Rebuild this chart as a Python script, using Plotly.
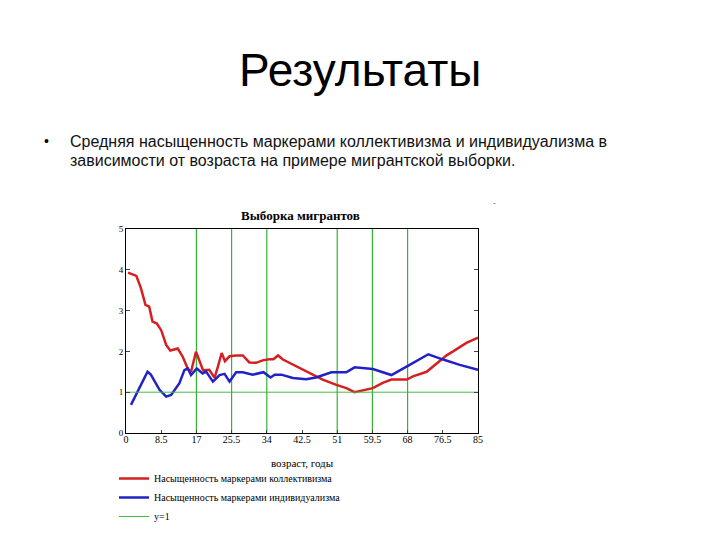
import plotly.graph_objects as go

# Data
age_coll = [0.5, 2.5, 3.6, 4.7, 5.6, 6.4, 7.4, 8.5, 9.7, 10.7, 12.5, 13.7, 14.9, 15.7, 16.9, 17.7,
            18.6, 20.1, 21.4, 22.2, 23.1, 23.9, 25.0, 26.6, 28.2, 29.8, 31.4, 33.0, 34.6, 35.6, 36.7,
            37.9, 41.1, 44.3, 47.5, 50.8, 53.2, 55.2, 57.2, 59.6, 62.0, 64.1, 67.8, 69.3, 72.6, 77.5,
            79.0, 82.2, 85.0]
coll = [3.93, 3.85, 3.55, 3.14, 3.10, 2.73, 2.69, 2.52, 2.16, 2.02, 2.07, 1.87, 1.58, 1.50, 1.99, 1.79,
        1.54, 1.55, 1.35, 1.63, 1.96, 1.76, 1.88, 1.90, 1.90, 1.73, 1.72, 1.78, 1.81, 1.81, 1.90,
        1.80, 1.63, 1.47, 1.31, 1.18, 1.10, 1.00, 1.05, 1.10, 1.23, 1.31, 1.31, 1.39, 1.50, 1.91,
        2.00, 2.21, 2.34]

age_ind = [1.2, 2.8, 5.2, 6.0, 8.1, 9.7, 10.9, 12.9, 14.1, 14.9, 15.7, 17.1, 18.5, 19.3, 21.0, 22.6,
           23.8, 25.0, 26.6, 28.2, 30.6, 33.2, 34.9, 35.9, 37.5, 40.3, 43.5, 45.9, 49.6, 53.2, 55.2,
           59.6, 64.1, 68.5, 73.0, 76.6, 80.6, 85.0]
ind = [0.69, 1.02, 1.50, 1.43, 1.06, 0.89, 0.93, 1.22, 1.54, 1.58, 1.42, 1.58, 1.46, 1.51, 1.26, 1.42,
       1.45, 1.26, 1.49, 1.49, 1.43, 1.49, 1.36, 1.43, 1.43, 1.35, 1.32, 1.36, 1.49, 1.49, 1.61,
       1.57, 1.42, 1.67, 1.93, 1.80, 1.67, 1.55]

ref_x = [0, 85]
ref_y = [1, 1]

x_ticks = [0, 8.5, 17, 25.5, 34, 42.5, 51, 59.5, 68, 76.5, 85]
x_tick_labels = ["0", "8.5", "17", "25.5", "34", "42.5", "51", "59.5", "68", "76.5", "85"]
y_ticks = [0, 1, 2, 3, 4, 5]
v_lines = [17, 25.5, 34, 51, 59.5, 68]

names = ["Насыщенность маркерами коллективизма",
         "Насыщенность маркерами индивидуализма",
         "y=1"]

serif = "Liberation Serif"
sans = "Liberation Sans"

fig = go.Figure()
fig.add_trace(go.Scatter(x=age_coll, y=coll, mode="lines", name=names[0],
                         line=dict(color="#d42020", width=2.5)))
fig.add_trace(go.Scatter(x=age_ind, y=ind, mode="lines", name=names[1],
                         line=dict(color="#2222c4", width=2.5)))
fig.add_trace(go.Scatter(x=ref_x, y=ref_y, mode="lines", name=names[2],
                         line=dict(color="#44bb44", width=1)))

for v in v_lines:
    fig.add_shape(type="line", xref="x", yref="paper", x0=v, x1=v, y0=0, y1=1,
                  line=dict(color="#33b433", width=1.2), layer="below")

OFF = 8  # page offset of the figure inside the browser
W, H = 720, 540
L, R, T, B = 126 - OFF, 478 - OFF, 229 - OFF, 433 - OFF


def px(xs):
    return (xs - OFF - L) / (R - L)


def py(ys):
    return (B - (ys - OFF)) / (B - T)


annotations = [
    dict(text="Результаты", x=px(360), y=py(70), xref="paper", yref="paper",
         showarrow=False, font=dict(family=sans, size=46, color="black"),
         xanchor="center", yanchor="middle"),
    dict(text="•", x=px(42), y=py(141), xref="paper", yref="paper",
         showarrow=False, font=dict(family=sans, size=14, color="black"),
         xanchor="left", yanchor="middle"),
    dict(text="Средняя насыщенность маркерами коллективизма и индивидуализма в",
         x=px(68), y=py(141), xref="paper", yref="paper",
         showarrow=False, font=dict(family=sans, size=16, color="#111111"),
         xanchor="left", yanchor="middle"),
    dict(text="зависимости от возраста на примере мигрантской выборки.",
         x=px(68), y=py(160), xref="paper", yref="paper",
         showarrow=False, font=dict(family=sans, size=16, color="#111111"),
         xanchor="left", yanchor="middle"),
    dict(text="<b>Выборка мигрантов</b>", x=px(300), y=py(215), xref="paper", yref="paper",
         showarrow=False, font=dict(family=serif, size=13, color="black"),
         xanchor="center", yanchor="middle"),
    dict(text="-", x=px(494), y=py(203), xref="paper", yref="paper",
         showarrow=False, font=dict(family=serif, size=8, color="#555555"),
         xanchor="center", yanchor="middle"),
]

fig.update_layout(
    width=W, height=H,
    margin=dict(l=L, r=W - R, t=T, b=H - B),
    paper_bgcolor="white", plot_bgcolor="white",
    showlegend=True,
    legend=dict(x=px(114), y=py(464),
                xanchor="left", yanchor="top",
                font=dict(family=serif, size=10, color="black"),
                bgcolor="rgba(0,0,0,0)", tracegroupgap=0, itemwidth=30),
    annotations=annotations,
    xaxis=dict(range=[0, 85], tickvals=x_ticks, ticktext=x_tick_labels,
               showgrid=False, zeroline=False, showline=True, linecolor="black",
               linewidth=1, mirror=True, ticks="inside", ticklen=3,
               ticklabelstandoff=-3, automargin=False,
               tickfont=dict(family=serif, size=10, color="black"),
               title=dict(text="возраст, годы", font=dict(family=serif, size=11, color="black"),
                          standoff=15)),
    yaxis=dict(range=[0, 5], tickvals=y_ticks, automargin=False,
               showgrid=False, zeroline=False, showline=True, linecolor="black",
               linewidth=1, mirror="ticks", ticks="inside", ticklen=4,
               tickfont=dict(family=serif, size=9, color="black")),
)

fig.write_html("out.html")
